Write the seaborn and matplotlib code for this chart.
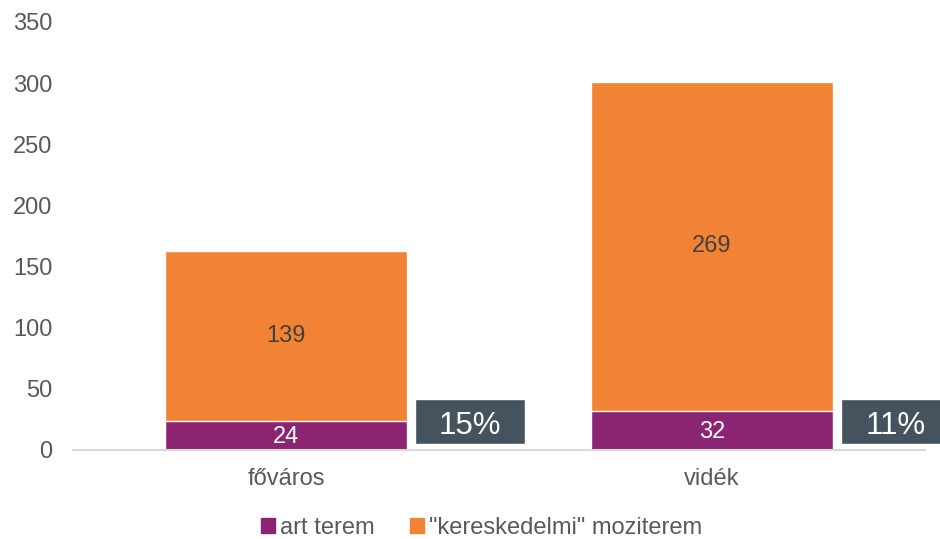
import numpy as np
import pandas as pd
import matplotlib.pyplot as plt
import seaborn as sns
from matplotlib.patches import Patch

# data
categories = ["főváros", "vidék"]
art_terem = [24, 32]
kereskedelmi = [139, 269]
share_labels = ["15%", "11%"]

sns.set_style("white")
plt.rcParams['font.family'] = ['Liberation Sans', 'DejaVu Sans']

purple = "#8C2474"
orange = "#F28334"
slate = "#44535D"

df = pd.DataFrame({"kat": categories, "art": art_terem, "ker": kereskedelmi})
df["total"] = df["art"] + df["ker"]

fig = plt.figure(figsize=(9.4, 5.39), dpi=100)
ax = fig.add_axes([73 / 940, 89 / 539, 852 / 940, 428 / 539])

# stacked bars: total first, bottom segment on top of it
sns.barplot(data=df, x="kat", y="total", color=orange, width=0.57, saturation=1, ax=ax)
sns.barplot(data=df, x="kat", y="art", color=purple, width=0.57, saturation=1, ax=ax)

for i, row in df.iterrows():
    ax.text(i, row["art"] / 2 - 1, str(row["art"]), ha="center", va="center",
            color="white", fontsize=17)
    ax.text(i, row["art"] + row["ker"] / 2, str(row["ker"]), ha="center", va="center",
            color="#404040", fontsize=17)
    # percentage box next to each bar
    ax.bar(i + 0.432, 37, bottom=5, width=0.258, color=slate, clip_on=False, zorder=3)
    ax.text(i + 0.432, 19.5, share_labels[i], ha="center", va="center",
            color="white", fontsize=22.5, zorder=4)

ax.set_ylim(0, 350)
ax.set_xlim(-0.5, 1.5)
ax.set_yticks(range(0, 351, 50))
ax.set_xlabel("")
ax.set_ylabel("")
ax.tick_params(axis="both", length=0, labelsize=17, colors="#595959")
ax.tick_params(axis="y", pad=15)
ax.tick_params(axis="x", pad=13)
for s in ["top", "right", "left"]:
    ax.spines[s].set_visible(False)
ax.spines["bottom"].set_color("#D9D9D9")
ax.spines["bottom"].set_linewidth(1.5)

handles = [Patch(color=purple, label="art terem"),
           Patch(color=orange, label='"kereskedelmi" moziterem')]
fig.legend(handles=handles, loc="center", bbox_to_anchor=(0.512, 0.02), ncol=2,
           frameon=False, fontsize=17, handlelength=0.6, handleheight=0.6,
           handletextpad=0.2, columnspacing=1.5, labelcolor="#595959")

fig.savefig("out.png", dpi=100)
